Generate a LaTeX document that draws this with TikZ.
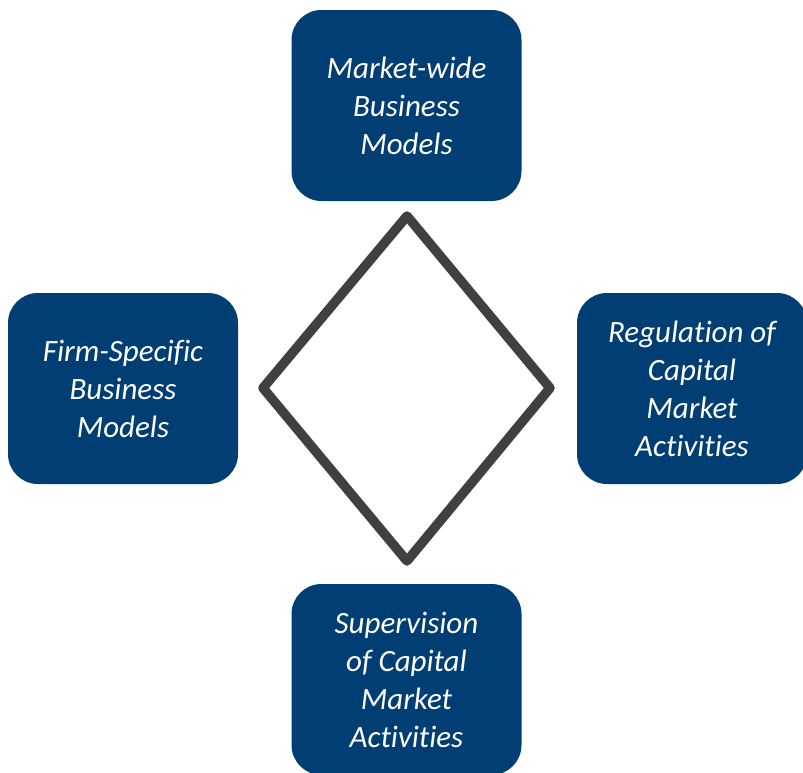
\documentclass[tikz,border=0pt]{standalone}
\usepackage{fontspec}
\setmainfont{Carlito}[RawFeature={-liga;-clig;-calt;-dlig}]
\definecolor{boxblue}{RGB}{0,62,115}
\definecolor{framegray}{RGB}{64,64,64}
\begin{document}
\begin{tikzpicture}[x=1pt,y=-1pt,
  topic/.style={fill=boxblue, draw=none, rounded corners=30pt,
    minimum width=230pt, minimum height=191pt, inner sep=0pt,
    text=white, align=center,
    font=\fontsize{31}{38}\selectfont\itshape},
  frame/.style={draw=framegray, line width=9.5pt, line join=round}]
  \useasboundingbox (0,0) rectangle (803,772);
  \clip (0,0) rectangle (803,772);
  % the four topic boxes
  \node[topic] (market) at (406.5,105.5) {Market-wide\\Business\\Models};
  \node[topic] (firm) at (123,388.5) {Firm-Specific\\Business\\Models};
  \node[topic] (regulation) at (692,388.5) {Regulation of\\Capital\\Market\\Activities};
  \node[topic] (supervision) at (406.5,679.5) {Supervision\\of Capital\\Market\\Activities};
  % central diamond
  \coordinate (dtop) at (407,216);
  \coordinate (dright) at (550,388);
  \coordinate (dbottom) at (407,561);
  \coordinate (dleft) at (263,388);
  \draw[frame] (dtop) -- (dright) -- (dbottom) -- (dleft) -- cycle;
\end{tikzpicture}
\end{document}
